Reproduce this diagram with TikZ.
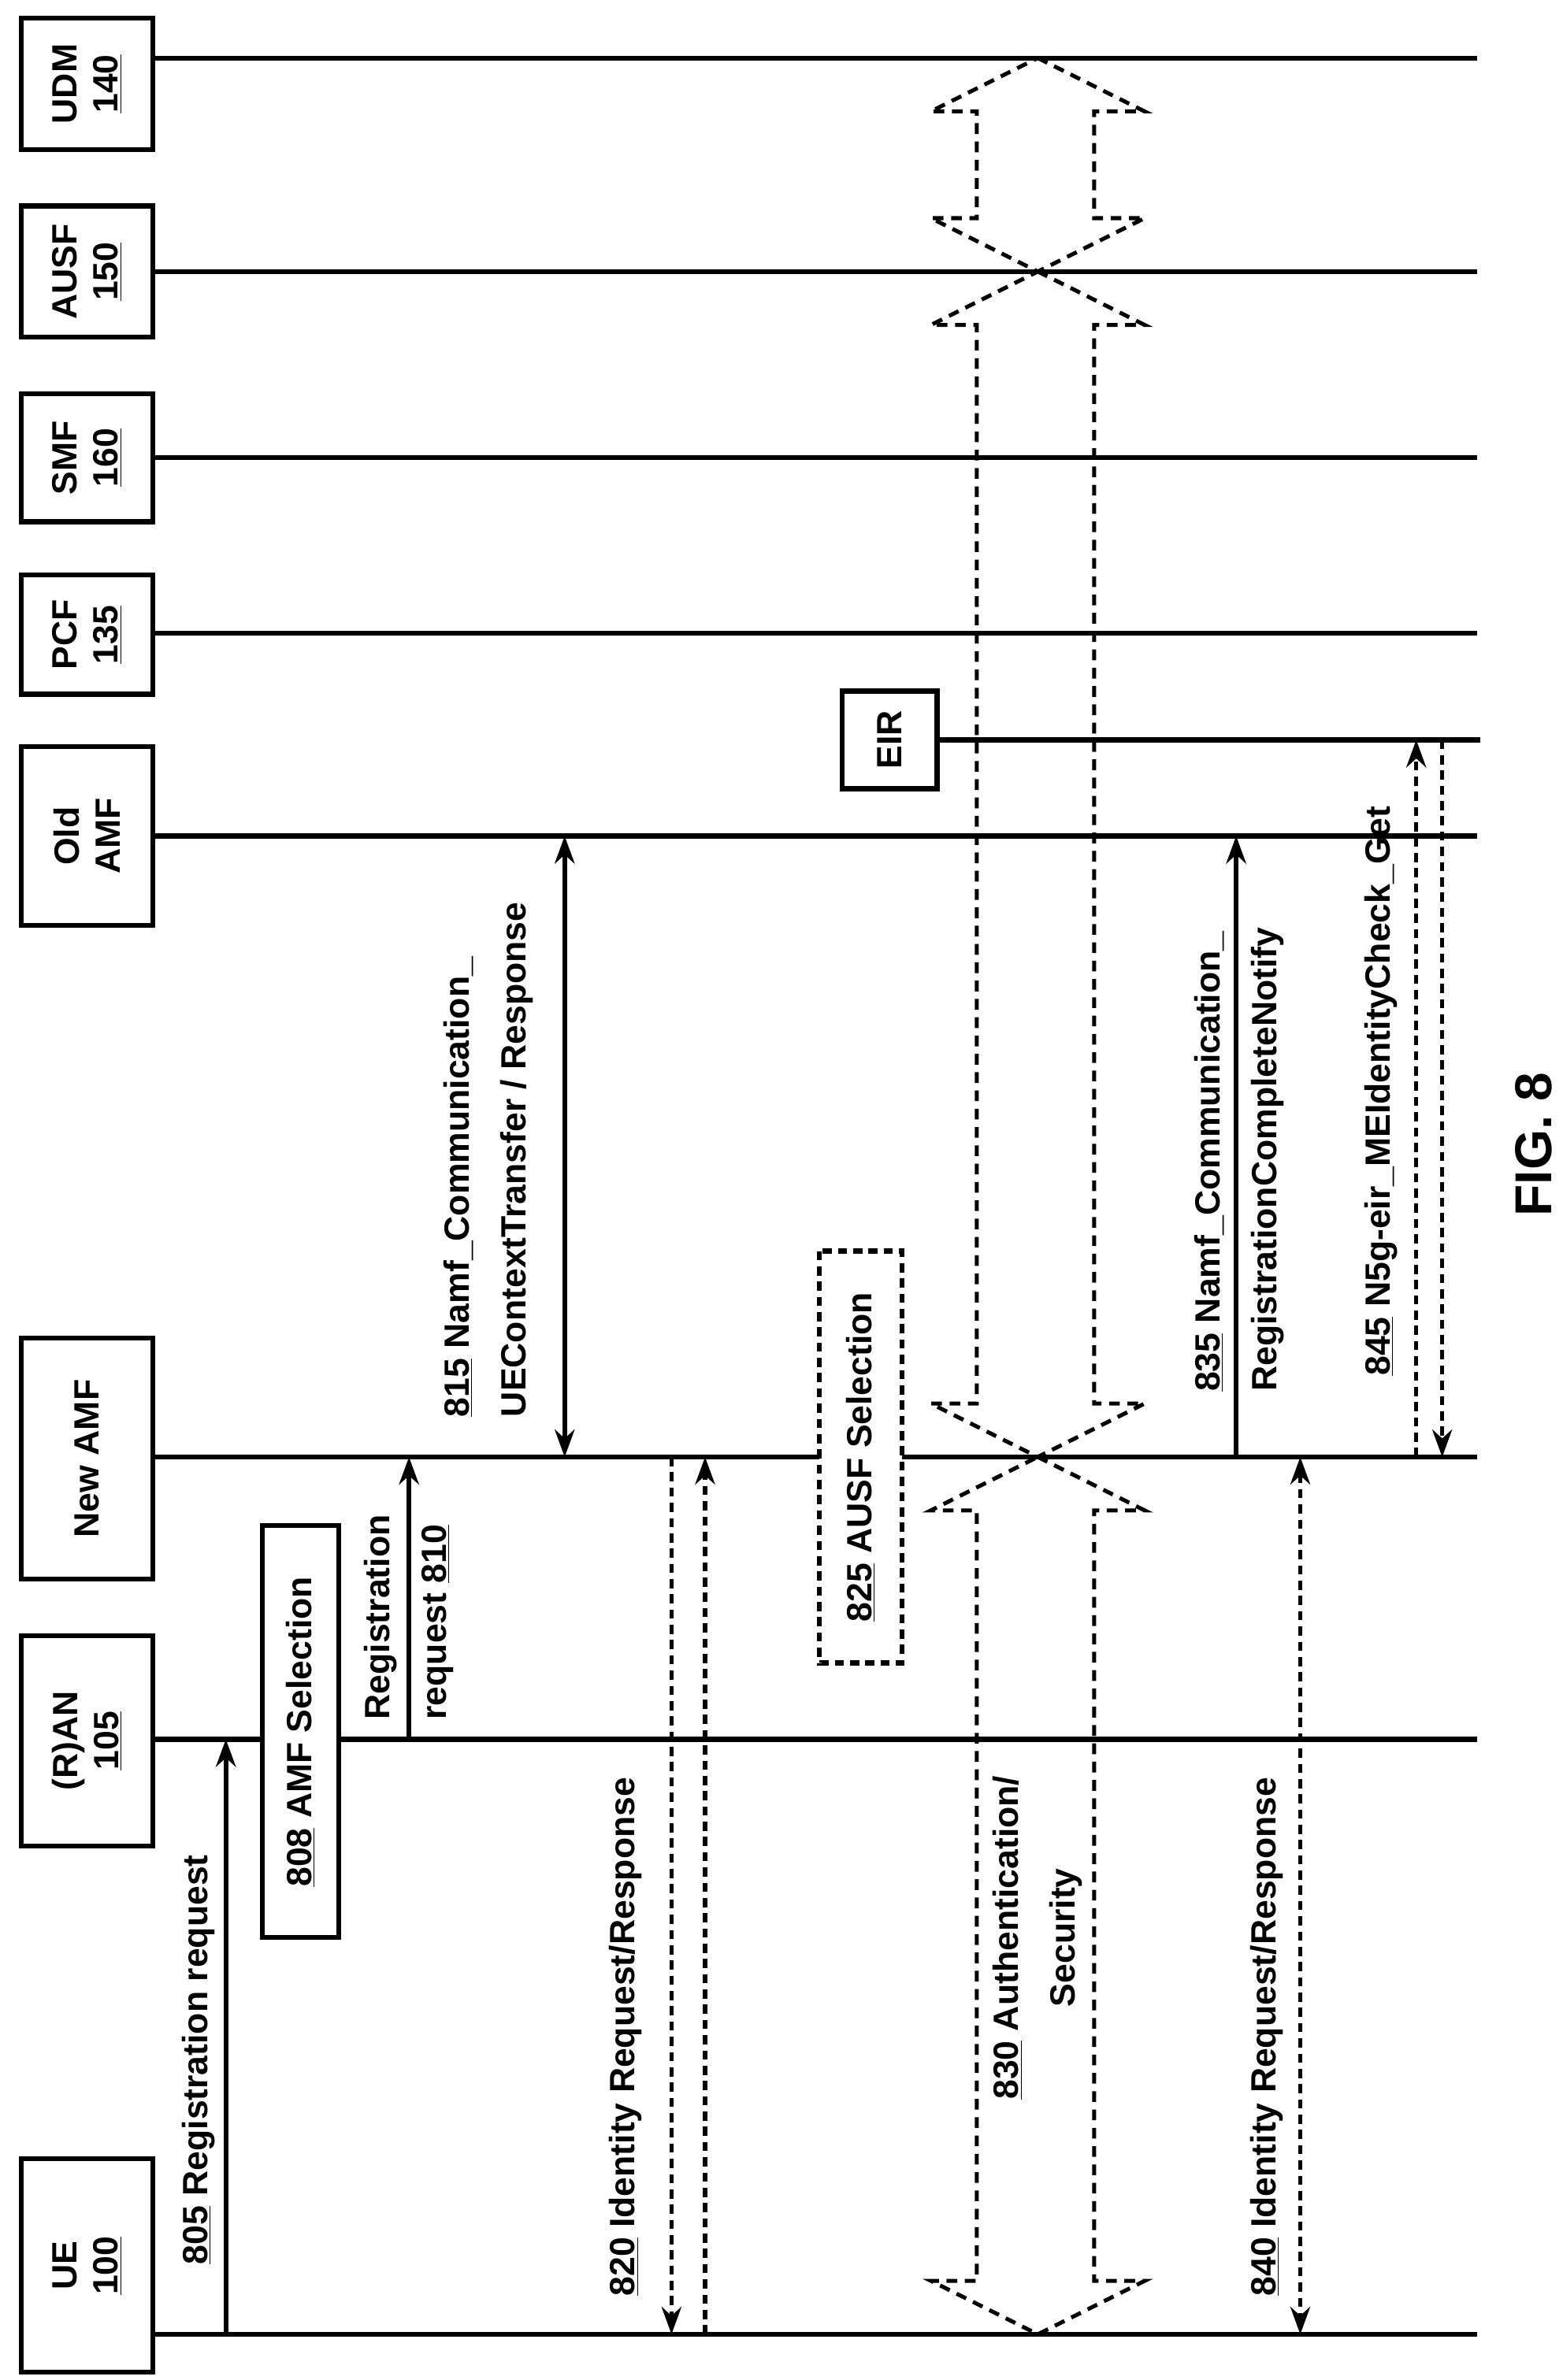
\documentclass[tikz,border=0pt]{standalone}
\usepackage{fontspec}
\setmainfont{Liberation Sans}
\usetikzlibrary{arrows.meta}
\begin{document}
\begin{tikzpicture}[x=1pt,y=-1pt,
  life/.style={line width=3.2pt},
  box/.style={draw,fill=white,line width=3.2pt,rotate=90,align=center,font=\fontsize{23}{27}\selectfont\bfseries,inner sep=2pt},
  lbl/.style={rotate=90,align=left,font=\fontsize{23}{37}\selectfont\bfseries,inner sep=0pt},
  msg/.style={line width=3.2pt,-{Stealth[length=18pt,width=13pt]}},
  dmsg/.style={line width=2.6pt,dash pattern=on 6pt off 4pt,-{Stealth[length=18pt,width=13pt]}},
  blk/.style={line width=2.6pt,dash pattern=on 7pt off 5pt}]
\useasboundingbox (0,0) rectangle (1024,1560);
% lifelines
\foreach \y in {38,178,300,415,548,955,1140,1530} \draw[life] (100,\y) -- (968,\y);
\draw[life] (600,485) -- (970,485);
% participants
\node[box,minimum width=86,minimum height=86] (udm) at (57,55) {UDM\\\underline{140}};
\node[box,minimum width=86,minimum height=86] (ausf) at (57,178) {AUSF\\\underline{150}};
\node[box,minimum width=84,minimum height=86] (smf) at (57,300) {SMF\\\underline{160}};
\node[box,minimum width=78,minimum height=86] (pcf) at (57,416) {PCF\\\underline{135}};
\node[box,minimum width=117,minimum height=86] (old) at (57,548) {Old\\AMF};
\node[box,minimum width=158,minimum height=86] (new) at (57,956) {New AMF};
\node[box,minimum width=138,minimum height=86] (ran) at (57,1141) {(R)AN\\\underline{105}};
\node[box,minimum width=140,minimum height=86] (ue) at (57,1485) {UE\\\underline{100}};
\node[box,minimum width=64,minimum height=62] (eir) at (583,485) {EIR};
% endpoints
\coordinate (a805) at (148,1530); \coordinate (b805) at (148,1140);
\coordinate (a810) at (268,1140); \coordinate (b810) at (268,955);
\coordinate (a815) at (370,955); \coordinate (b815) at (370,548);
\coordinate (a820) at (440,955); \coordinate (b820) at (440,1530);
\coordinate (c820) at (462,1530); \coordinate (d820) at (462,955);
\coordinate (a835) at (810,955); \coordinate (b835) at (810,548);
\coordinate (a840) at (852,955); \coordinate (b840) at (852,1530);
\coordinate (a845) at (928,955); \coordinate (b845) at (928,485);
\coordinate (c845) at (945,485); \coordinate (d845) at (945,955);
% 805
\draw[msg] (a805) -- (b805);
\node[lbl] at (130,1350) {\underline{805} Registration request};
% 808
\node[box,minimum width=270,minimum height=50] (s808) at (197,1135) {\underline{808} AMF Selection};
% 810
\draw[msg] (a810) -- (b810);
\node[lbl] at (268,1060) {Registration\\request \underline{810}};
% 815
\draw[line width=3.2pt,{Stealth[length=18pt,width=13pt]}-{Stealth[length=18pt,width=13pt]}] (a815) -- (b815);
\node[lbl] at (320,760) {\underline{815} Namf\_Communication\_\\UEContextTransfer / Response};
% 820
\draw[dmsg] (a820) -- (b820);
\draw[dmsg] (c820) -- (d820);
\node[lbl] at (410,1335) {\underline{820} Identity Request/Response};
% 825
\node[box,dash pattern=on 6pt off 4pt,minimum width=270,minimum height=54] (s825) at (564,955) {\underline{825} AUSF Selection};
% 830 block arrows
\foreach \t/\b in {38/178,178/955,955/1530}{
 \draw[blk] (680,\t) -- (750,\t+35) -- (717,\t+35) -- (717,\b-35) -- (750,\b-35) -- (680,\b) -- (610,\b-35) -- (640,\b-35) -- (640,\t+35) -- (610,\t+35) -- cycle;}
\node[lbl,align=center,fill=white,inner sep=0pt] at (680,1270) {\underline{830} Authentication/\\Security};
% 835
\draw[msg] (a835) -- (b835);
\node[lbl] at (812,760) {\underline{835} Namf\_Communication\_\\RegistrationCompleteNotify};
% 840
\draw[line width=2.6pt,dash pattern=on 6pt off 4pt,{Stealth[length=18pt,width=13pt]}-{Stealth[length=18pt,width=13pt]}] (a840) -- (b840);
\node[lbl] at (830,1335) {\underline{840} Identity Request/Response};
% 845
\draw[dmsg] (a845) -- (b845);
\draw[dmsg] (c845) -- (d845);
\node[lbl] at (905,715) {\underline{845} N5g-eir\_MEIdentityCheck\_Get};
% fig
\node[rotate=90,font=\fontsize{34}{40}\selectfont\bfseries] at (1005,750) {FIG. 8};
\end{tikzpicture}
\end{document}
